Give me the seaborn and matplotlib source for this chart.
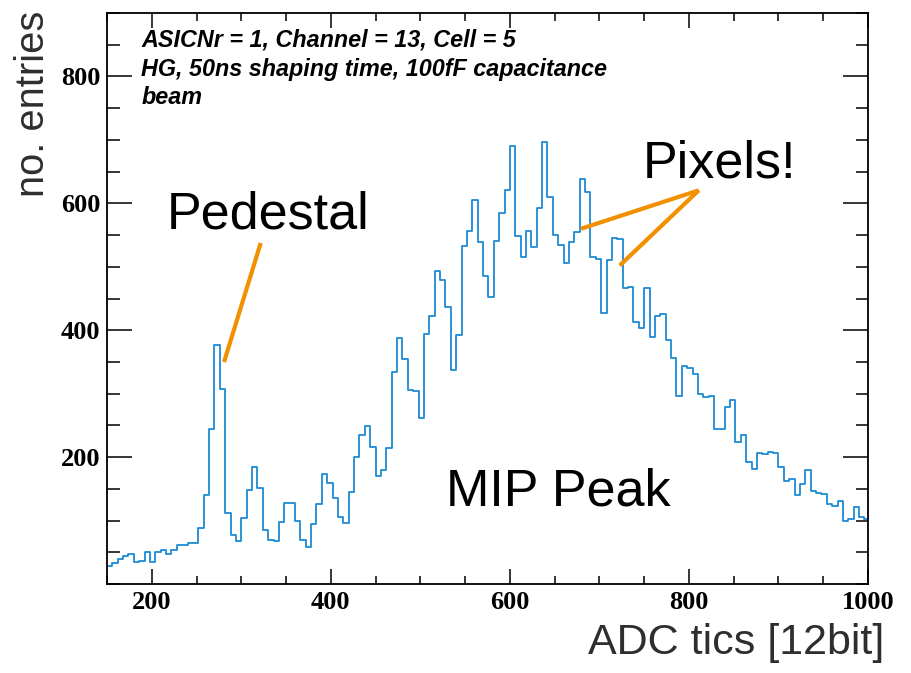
import numpy as np
import pandas as pd
import matplotlib
matplotlib.use("Agg")
import matplotlib.pyplot as plt
from matplotlib.ticker import MultipleLocator, FixedLocator
import seaborn as sns

# ADC spectrum, 6-tic wide bins starting at 150
bin_width = 6
adc_start = 150
entries = [
    28, 33, 39, 44, 48, 35, 36, 51, 35, 51,
    53, 47, 54, 61, 61, 64, 64, 88, 140, 244,
    377, 307, 112, 77, 68, 104, 148, 185, 151, 85,
    69, 67, 97, 127, 128, 100, 70, 58, 95, 126,
    174, 159, 135, 106, 96, 145, 200, 235, 249, 216,
    170, 180, 215, 334, 387, 355, 306, 304, 262, 394,
    422, 493, 479, 437, 337, 392, 532, 556, 606, 539,
    485, 452, 540, 584, 621, 691, 548, 515, 557, 531,
    592, 697, 610, 550, 534, 506, 539, 555, 639, 618,
    516, 513, 427, 510, 546, 544, 467, 468, 413, 403,
    466, 390, 422, 426, 385, 357, 296, 343, 340, 331,
    300, 295, 296, 245, 245, 279, 290, 224, 235, 193,
    181, 206, 205, 208, 206, 184, 163, 166, 140, 158,
    179, 147, 143, 142, 126, 123, 131, 100, 103, 121,
    106, 103,
]
x_ticks = [200, 400, 600, 800, 1000]
y_ticks = [200, 400, 600, 800]
info_lines = [
    "ASICNr = 1, Channel = 13, Cell = 5",
    "HG, 50ns shaping time, 100fF capacitance",
    "beam",
]

edges = [adc_start + bin_width * i for i in range(len(entries) + 1)]
centers = [e + bin_width / 2 for e in edges[:-1]]
df = pd.DataFrame({"adc": centers, "entries": entries})

sns.set_style("ticks")
plt.rcParams["font.family"] = ["Liberation Sans", "DejaVu Sans"]

line_blue = "#1c8ad3"
orange = "#f39000"

fig = plt.figure(figsize=(9.11, 6.73), dpi=100)
ax = fig.add_axes([107 / 911, 1 - 584 / 673, (868 - 107) / 911, (584 - 13) / 673])

sns.histplot(data=df, x="adc", weights="entries", bins=edges, element="step",
             fill=False, color=line_blue, linewidth=1.3, ax=ax)

ax.set_xlim(150, 1000)
ax.set_ylim(0, 900)
ax.xaxis.set_major_locator(FixedLocator(x_ticks))
ax.yaxis.set_major_locator(FixedLocator(y_ticks))
ax.xaxis.set_minor_locator(MultipleLocator(50))
ax.yaxis.set_minor_locator(MultipleLocator(50))

for s in ax.spines.values():
    s.set_visible(True)
    s.set_linewidth(1.3)
    s.set_color("black")

ax.tick_params(axis="both", which="both", direction="in", top=True, right=True,
               color="black", labelcolor="black", width=1.1)
ax.tick_params(axis="y", which="major", length=18, pad=5)
ax.tick_params(axis="y", which="minor", length=9)
ax.tick_params(axis="x", which="major", length=11, pad=5)
ax.tick_params(axis="x", which="minor", length=5.5)
for lab in ax.get_xticklabels() + ax.get_yticklabels():
    lab.set_fontfamily("Liberation Serif")
    lab.set_fontweight("bold")
    lab.set_fontsize(19)

ax.set_xlabel("ADC tics [12bit]", fontsize=31, color="#2e2e2e", loc="right")
ax.xaxis.set_label_coords(1.022, -0.0675)
ax.set_ylabel("no. entries", fontsize=28.7, color="#2e2e2e", loc="top")
ax.yaxis.set_label_coords(-0.0717, 1.005)

# run information block
for i, line in enumerate(info_lines):
    ax.text(0.045, 0.9405 - i * 0.05, line, transform=ax.transAxes,
            fontsize=16.8, fontweight="bold", fontstyle="italic",
            ha="left", va="baseline", color="black")

# annotations
big = dict(fontsize=37.5, color="black", va="baseline", ha="left")
ax.text(217, 561, "Pedestal", **big)
ax.text(748, 641, "Pixels!", **big)
ax.text(529, 124, "MIP Peak", **big)

ax.plot([321.7, 280.7], [537.5, 349.8], color=orange, lw=3, solid_capstyle="butt")
ax.plot([811, 679.6], [620.5, 560], color=orange, lw=3, solid_capstyle="butt")
ax.plot([811, 722.7], [620.5, 502], color=orange, lw=3, solid_capstyle="butt")

fig.savefig("out.png", dpi=100)
